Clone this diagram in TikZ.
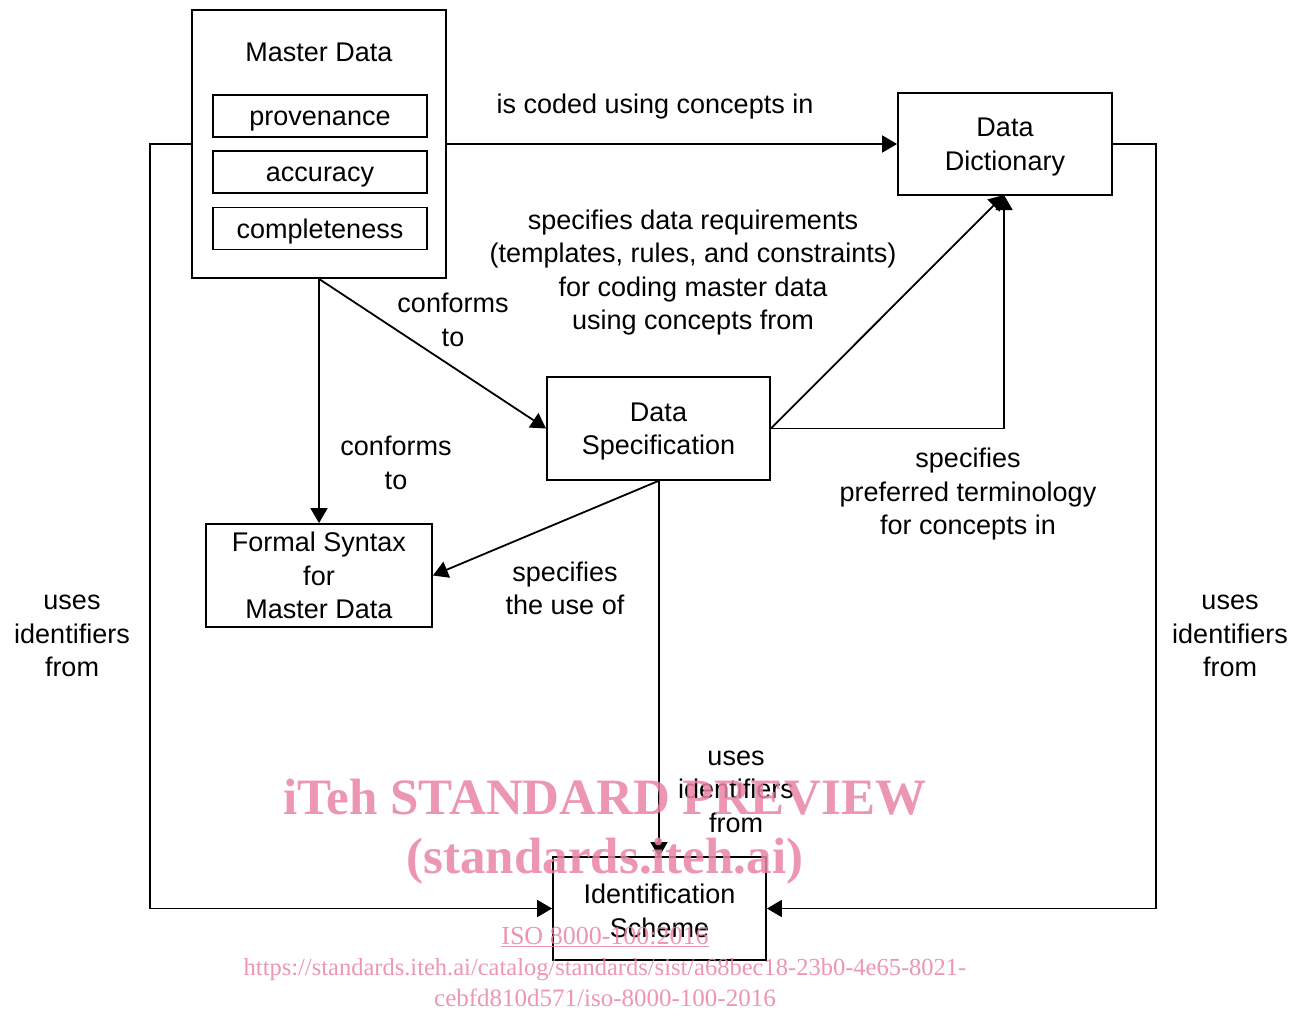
\documentclass[tikz,border=0pt]{standalone}
\usepackage{fontspec}
\setmainfont{Liberation Sans}
\newfontfamily\wmfont{Liberation Serif}
\usetikzlibrary{arrows.meta}
\definecolor{wm}{RGB}{234,132,166}
\tikzset{
  box/.style={draw=black, line width=1.8pt, fill=white, inner sep=0pt, align=center, font=\fontsize{27}{33.5}\selectfont},
  lbl/.style={align=center, inner sep=0pt, font=\fontsize{27}{33.5}\selectfont},
  conn/.style={draw=black, line width=1.8pt, -{Triangle[length=15pt,width=17pt]}},
  wmtext/.style={text=wm, inner sep=0pt, text opacity=0.85}
}
\begin{document}
\begin{tikzpicture}[x=1pt,y=-1pt]
\useasboundingbox (0,0) rectangle (1309,1012);
\fill[white] (0,0) rectangle (1309,1012);

% boxes
\node[box, minimum width=254pt, minimum height=268pt] (MD) at (319,144) {};
\node[lbl] (MDt) at (319,52) {Master Data};
\node[box, minimum width=214pt, minimum height=42pt] (prov) at (320,116) {};
\node[box, minimum width=214pt, minimum height=42pt] (acc) at (320,172) {};
\node[box, minimum width=214pt, minimum height=42pt] (comp) at (320,228.5) {};
\node[lbl, anchor=base] (provt) at (320,125) {provenance};
\node[lbl, anchor=base] (acct) at (320,181) {accuracy};
\node[lbl, anchor=base] (compt) at (320,238) {completeness};

\node[box, minimum width=214pt, minimum height=102pt] (DD) at (1005,144) {};
\node[lbl] (DDt) at (1005,147) {Data\\Dictionary};
\node[box, minimum width=223pt, minimum height=103pt] (DS) at (658.5,428.5) {};
\node[lbl] (DSt) at (658.5,431.5) {Data\\Specification};
\node[box, minimum width=226pt, minimum height=103pt] (FS) at (319,575.5) {Formal Syntax\\for\\Master Data};
\node[box, minimum width=213pt, minimum height=103pt] (IS) at (659.5,908.5) {};
\node[lbl] (ISt) at (659.5,911) {Identification\\Scheme};

% connectors
\draw[conn] (MD.east) -- (DD.west);
\coordinate (LL) at (150,144);
\coordinate (RR) at (1156,144);
\draw[conn] (MD.west) -- (LL) |- (IS.west);
\draw[conn] (DD.east) -- (RR) |- (IS.east);
\draw[conn] (MD.south) -- (FS.north);
\draw[conn] (MD.south) -- (DS.west);
\coordinate (DDb) at (1004,195);
\draw[conn] (DS.east) -- (DDb);
\coordinate (corner) at (1004,428.5);
\draw[conn] (DS.east) -- (corner) -- (DDb);
\draw[conn] (DS.south) -- (FS.east);
\coordinate (DSs) at (659,480);
\coordinate (ISn) at (659,857);
\draw[conn] (DSs) -- (ISn);

% labels
\node[lbl] (l1) at (655,107) {is coded using concepts in};
\node[lbl] (l2) at (693,272.5) {specifies data requirements\\(templates, rules, and constraints)\\for coding master data\\using concepts from};
\node[lbl] (l3) at (453,320) {conforms\\to};
\node[lbl] (l4) at (396,463) {conforms\\to};
\node[lbl] (l5) at (968,494.5) {specifies\\preferred terminology\\for concepts in};
\node[lbl] (l6) at (565,588.5) {specifies\\the use of};
\node[lbl] (l7) at (72,636) {uses\\identifiers\\from};
\node[lbl] (l8) at (1230,636) {uses\\identifiers\\from};
\node[lbl] (l9) at (736,791.5) {uses\\identifiers\\from};

% watermark
\node[wmtext, font=\wmfont\bfseries\fontsize{51}{51}\selectfont, anchor=base] (w1) at (605,814) {iTeh STANDARD PREVIEW};
\node[wmtext, font=\wmfont\bfseries\fontsize{51}{51}\selectfont, anchor=base] (w2) at (605,873) {(standards.iteh.ai)};
\node[wmtext, font=\wmfont\fontsize{26}{26}\selectfont, anchor=base] (w3) at (605,944) {\underline{ISO 8000-100:2016}};
\node[wmtext, font=\wmfont\fontsize{24.5}{24.5}\selectfont, anchor=base] (w4) at (605,975) {https://standards.iteh.ai/catalog/standards/sist/a68bec18-23b0-4e65-8021-};
\node[wmtext, font=\wmfont\fontsize{25}{25}\selectfont, anchor=base] (w5) at (605,1006) {cebfd810d571/iso-8000-100-2016};
\end{tikzpicture}
\end{document}
